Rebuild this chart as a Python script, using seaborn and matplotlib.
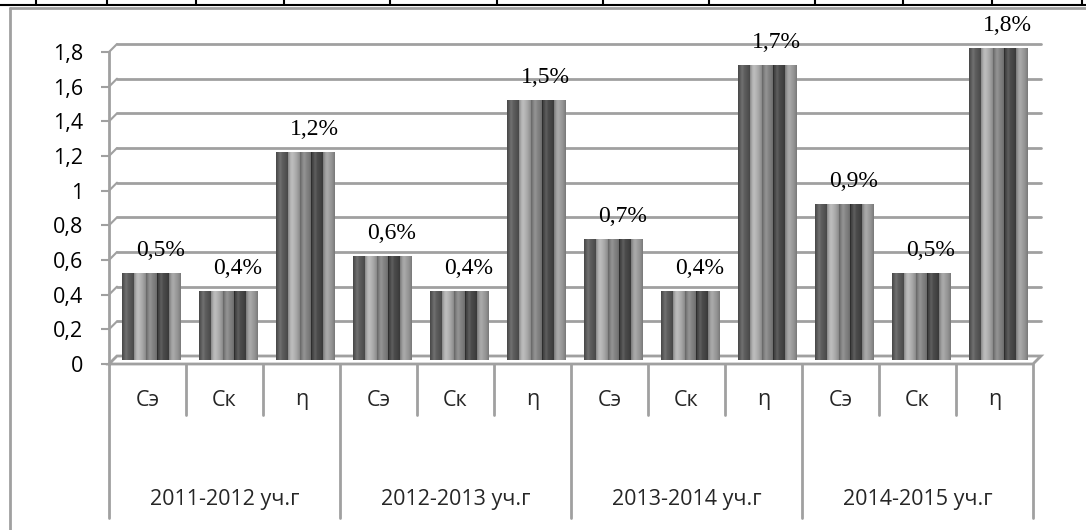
import numpy as np
import pandas as pd
import seaborn as sns
import matplotlib.pyplot as plt
from matplotlib.lines import Line2D
from matplotlib.patches import Polygon
from matplotlib.transforms import ScaledTranslation, blended_transform_factory

# data
years = ["2011-2012 уч.г", "2012-2013 уч.г", "2013-2014 уч.г", "2014-2015 уч.г"]
indicators = ["Сэ", "Ск", "η"]
values = [0.5, 0.4, 1.2, 0.6, 0.4, 1.5, 0.7, 0.4, 1.7, 0.9, 0.5, 1.8]
value_labels = ["0,5%", "0,4%", "1,2%", "0,6%", "0,4%", "1,5%",
                "0,7%", "0,4%", "1,7%", "0,9%", "0,5%", "1,8%"]
series = ["Ряд1", "Ряд2", "Ряд3", "Ряд4", "Ряд5"]
bar_colors = ["#5e5e5e", "#b4b4b4", "#868686", "#4b4b4b", "#a0a0a0"]
y_ticks = [0, 0.2, 0.4, 0.6, 0.8, 1.0, 1.2, 1.4, 1.6, 1.8]
y_tick_labels = ["0", "0,2", "0,4", "0,6", "0,8", "1", "1,2", "1,4", "1,6", "1,8"]

keys = [f"{y}|{ind}" for y in years for ind in indicators]
rows = []
for k, v in zip(keys, values):
    for s in series:
        rows.append({"key": k, "series": s, "value": v})
df = pd.DataFrame(rows)

sns.set_style("white")
plt.rcParams["font.family"] = ["Open Sans", "Noto Sans", "DejaVu Sans"]

W, H = 1086, 530
fig = plt.figure(figsize=(W / 100, H / 100), dpi=100)
ax_l, ax_r, ax_t, ax_b = 109, 1033, 52, 364
ax = fig.add_axes([ax_l / W, 1 - ax_b / H, (ax_r - ax_l) / W, (ax_b - ax_t) / H])
ax.patch.set_alpha(0)

grid_c = "#a0a0a0"


def off(dx, dy):
    return ScaledTranslation(dx / 100, dy / 100, fig.dpi_scale_trans)


sns.barplot(data=df, x="key", y="value", hue="series", order=keys,
            hue_order=series, palette=bar_colors, width=0.77, saturation=1,
            errorbar=None, legend=False, linewidth=0, ax=ax, zorder=2)

# cylinder look: bars sit half-way in depth, with a soft shading overlay
bar_tr = ax.transData + off(4, 4)
t = np.linspace(0, 1, 64)
shade = np.where(t < 0.35, -((0.35 - t) / 0.35) ** 2, -((t - 0.35) / 0.65) ** 2)
shade = shade + 0.3 * np.exp(-((t - 0.35) / 0.15) ** 2)
grad = np.zeros((1, len(t), 4))
grad[0, :, :3] = np.where(shade[:, None] > 0, 1.0, 0.0)
grad[0, :, 3] = np.where(shade > 0, shade * 0.35, -shade * 0.25)

for p in list(ax.patches):
    p.set_transform(bar_tr)
    p.set_clip_on(False)
    x0, w, h = p.get_x(), p.get_width(), p.get_height()
    im = ax.imshow(grad, extent=[x0, x0 + w, 0, h], transform=bar_tr,
                   aspect="auto", interpolation="bilinear",
                   zorder=p.get_zorder() + 0.1)
    im.set_clip_path(p)

n = len(keys)
ax.set_xlim(-0.5, n - 0.5)
ax.set_ylim(0, 1.8)

# 3d back wall and floor
dxd = 8 * n / (ax_r - ax_l)
dyd = 8 * 1.8 / (ax_b - ax_t)
for v in y_ticks[1:]:
    ax.plot([-0.5, n - 0.5], [v, v], transform=ax.transData + off(8, 8),
            color=grid_c, lw=2, zorder=0.5, clip_on=False)
for v in y_ticks:
    ax.plot([-0.5, -0.5 + dxd], [v, v + dyd], color=grid_c, lw=1.5,
            zorder=0.6, clip_on=False)
floor = Polygon([(-0.5, 0), (n - 0.5, 0), (n - 0.5 + dxd, dyd), (-0.5 + dxd, dyd)],
                closed=True, facecolor="white", edgecolor=grid_c, lw=2,
                zorder=1, clip_on=False)
ax.add_patch(floor)

# y axis
for s in ["top", "right", "bottom"]:
    ax.spines[s].set_visible(False)
ax.spines["left"].set_color(grid_c)
ax.spines["left"].set_linewidth(2)
ax.set_yticks(y_ticks)
ax.set_yticklabels(y_tick_labels)
ax.tick_params(axis="y", direction="out", length=5.8, width=1.5, color=grid_c,
               pad=13, labelsize=15.5, labelcolor="black", left=True)
ax.tick_params(axis="x", length=0, labelbottom=False)
ax.set_xlabel("")
ax.set_ylabel("")

# value labels
for i, (v, lbl) in enumerate(zip(values, value_labels)):
    ax.text(i, v, lbl, transform=ax.transData + off(13, 21), ha="center",
            va="baseline", fontsize=17, family="Liberation Serif",
            color="black", clip_on=False, zorder=5)

# two-level category axis
bt = blended_transform_factory(ax.transData, fig.transFigure)
for k in range(n + 1):
    y_end = 518 if k % 3 == 0 else 415
    ax.plot([k - 0.5, k - 0.5], [1 - ax_b / H, 1 - y_end / H], transform=bt,
            color=grid_c, lw=2, clip_on=False)
for i, k in enumerate(keys):
    ax.text(i, 1 - 400 / H, k.split("|")[1], transform=bt, ha="center",
            va="center", fontsize=15.5)
for g, y in enumerate(years):
    ax.text(3 * g + 1, 1 - 500 / H, y, transform=bt, ha="center",
            va="center", fontsize=15.5)

# chart frame and the table edge above it
fig.add_artist(Line2D([10 / W, 10 / W], [0, 1 - 8 / H], color=grid_c, lw=2))
fig.add_artist(Line2D([10 / W, 1], [1 - 8 / H, 1 - 8 / H], color=grid_c, lw=2))
fig.add_artist(Line2D([0, 1], [1 - 5 / H, 1 - 5 / H], color="black", lw=1.5))
table_cols = [36, 107, 196, 284, 390, 497, 603, 709, 815, 903, 992, 1082]
for x in table_cols:
    fig.add_artist(Line2D([x / W, x / W], [1 - 5 / H, 1], color="black", lw=1.5))

fig.savefig("out.png", dpi=100)
